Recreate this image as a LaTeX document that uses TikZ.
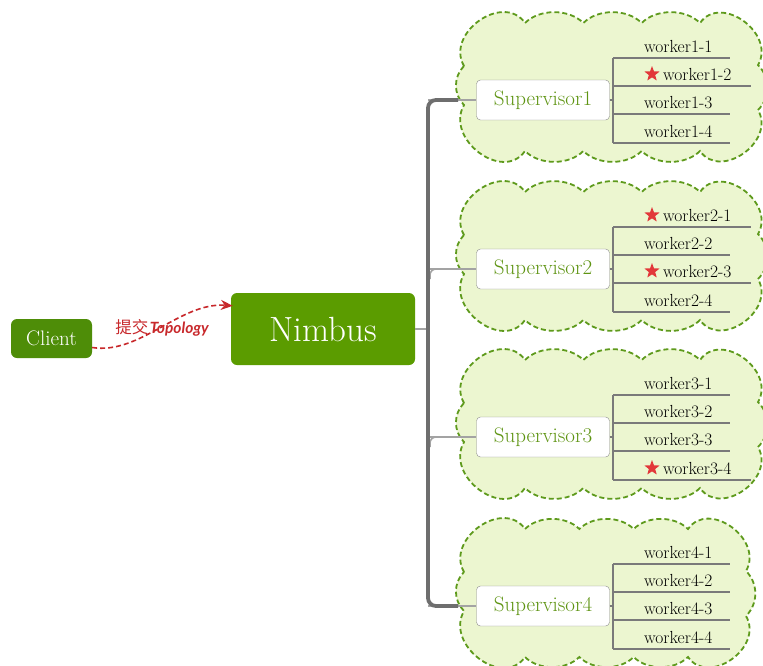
\documentclass[tikz,border=0pt]{standalone}
\usepackage{fontspec}
\newfontfamily\cjk{Noto Sans CJK SC}
\newfontfamily\topofont{Lato}
\usetikzlibrary{shapes.geometric,arrows.meta,calc}
\definecolor{nimbusgreen}{HTML}{5B9C00}
\definecolor{clientgreen}{HTML}{4E8D08}
\definecolor{cloudfill}{HTML}{ECF6D0}
\definecolor{clouddraw}{HTML}{5E9A1C}
\definecolor{suptext}{HTML}{5E9412}
\definecolor{trunkgray}{HTML}{6E6E6E}
\definecolor{branchgray}{HTML}{A3A3A3}
\definecolor{wline}{HTML}{7A7A7A}
\definecolor{starred}{HTML}{E2383A}
\definecolor{arrowred}{HTML}{C8282B}
\newcommand\mycloud[2]{%
  \begin{scope}[yshift=-#1pt]
    \pgfmathsetmacro\xa{525}
    \pgfmathsetmacro\xd{#2-58}
    \pgfmathsetmacro\xb{\xa+(\xd-\xa)/3}
    \pgfmathsetmacro\xc{\xa+2*(\xd-\xa)/3}
    \path[cloudstyle]
      (464,34) to[out=120,in=125,looseness=1.3] (\xa,77)
      to[out=45,in=135,looseness=0.9] (\xb,77)
      to[out=45,in=135,looseness=0.9] (\xc,77)
      to[out=45,in=135,looseness=0.9] (\xd,77)
      to[out=55,in=60,looseness=1.3] (#2,35)
      to[out=-45,in=45] (#2,-10)
      to[out=-60,in=-55,looseness=1.3] (\xd,-51)
      to[out=-135,in=-45,looseness=0.9] (\xc,-51)
      to[out=-135,in=-45,looseness=0.9] (\xb,-51)
      to[out=-135,in=-45,looseness=0.9] (\xa,-51)
      to[out=-125,in=-120,looseness=1.3] (464,-5)
      to[out=135,in=-135] (464,34);
  \end{scope}}
% #1 sup index, #2 sup y, #3..#6 star flags (1/0)
\newcommand\workerset[6]{%
  \begin{scope}[yshift=-#2pt]
    \coordinate (v#1top) at (613,42);
    \coordinate (v#1bot) at (613,-43);
    \coordinate (v#1mid) at (613,0);
    \draw[wconn] (sup#1.east) -- (v#1mid);
    \draw[wconn] (v#1top) -- (v#1bot);
    \foreach \k/\yy/\st in {1/42/#3,2/14/#4,3/-14/#5,4/-43/#6}{
      \coordinate (w#1\k a) at (613,\yy);
      \ifnum\st=1
        \coordinate (w#1\k b) at (751,\yy);
        \node[starnode] (s#1\k) at (652,\yy+12) {};
        \node[workertext] (w#1\k) at (663,\yy+6) {worker#1-\k};
      \else
        \coordinate (w#1\k b) at (730,\yy);
        \node[workertext] (w#1\k) at (644,\yy+6) {worker#1-\k};
      \fi
      \draw[wconn] (w#1\k a) -- (w#1\k b);
    }
  \end{scope}}
\begin{document}
\begin{tikzpicture}[x=1pt,y=1pt,
  cloudstyle/.style={fill=cloudfill,draw=clouddraw,line width=1.8pt,dash pattern=on 5pt off 3pt},
  supbox/.style={draw=black!45,fill=white,rounded corners=4pt,minimum width=133pt,minimum height=40pt,
    text=suptext,font=\fontsize{21}{24}\selectfont,inner sep=0pt},
  workertext/.style={anchor=base west,inner sep=0pt,font=\fontsize{17.5}{20}\selectfont},
  starnode/.style={star,star points=5,star point ratio=2.4,fill=starred,draw=none,minimum size=16pt,inner sep=0pt},
  wconn/.style={draw=wline,line width=1.1pt},
  trunkline/.style={draw=trunkgray,line width=3.8pt,rounded corners=8pt},
  branch/.style={draw=branchgray,line width=1.6pt},
  greenbox/.style={text=white,rounded corners=6pt,inner sep=0pt}]
\useasboundingbox (0,0) rectangle (763,-665);
\fill[white] (0,0) rectangle (763,-665);

% clouds
\mycloud{100}{758}
\mycloud{269}{758}
\mycloud{437}{758}
\mycloud{606}{746}

% main nodes
\node[greenbox,fill=clientgreen,minimum width=81pt,minimum height=39pt,font=\fontsize{21}{24}\selectfont] (client) at (51.5,-338.5) {Client};
\node[greenbox,fill=nimbusgreen,minimum width=184pt,minimum height=72pt,font=\fontsize{35}{40}\selectfont] (nimbus) at (323,-329) {Nimbus};

\node[supbox] (sup1) at (543,-100) {Supervisor1};
\node[supbox] (sup2) at (543,-269) {Supervisor2};
\node[supbox] (sup3) at (543,-437) {Supervisor3};
\node[supbox] (sup4) at (543,-606) {Supervisor4};

% trunk
\coordinate (t1) at (428,-100);
\coordinate (t2) at (428,-269);
\coordinate (t3) at (428,-437);
\coordinate (t4) at (428,-606);
\coordinate (tn) at (428,-329);
\draw[branch,line width=1.2pt] (nimbus.east) -- (tn);
\draw[branch] (t1) -- (sup1.west);
\draw[branch] (t2) -- (sup2.west);
\draw[branch] (t3) -- (sup3.west);
\draw[branch] (t4) -- (sup4.west);
\draw[branch,rounded corners=6pt] ($(t2)+(2,-10)$) |- ($(t2)+(14,0)$);
\draw[branch,rounded corners=6pt] ($(t3)+(2,-10)$) |- ($(t3)+(14,0)$);
\draw[trunkline] ($(t1)+(30,0)$) -- (t1) -- (t4) -- ($(t4)+(30,0)$);

% workers
\workerset{1}{100}{0}{1}{0}{0}
\workerset{2}{269}{1}{0}{1}{0}
\workerset{3}{437}{0}{0}{0}{1}
\workerset{4}{606}{0}{0}{0}{0}

% submit arrow
\coordinate (astart) at ($(client.east)+(0,-9)$);
\coordinate (aend) at ($(nimbus.north west)+(2,-13)$);
\draw[arrowred,line width=1.6pt,dash pattern=on 5pt off 3pt,-{Stealth[length=12pt,width=10pt]}]
  (astart) .. controls (140,-355) and (180,-302) .. (aend);
\node[text=arrowred,inner sep=0pt] (lbl) at (162,-328)
  {{\cjk\fontsize{16.5}{18}\selectfont 提交}\,{\topofont\bfseries\itshape\fontsize{15.5}{17}\selectfont Topology}};
\end{tikzpicture}
\end{document}
